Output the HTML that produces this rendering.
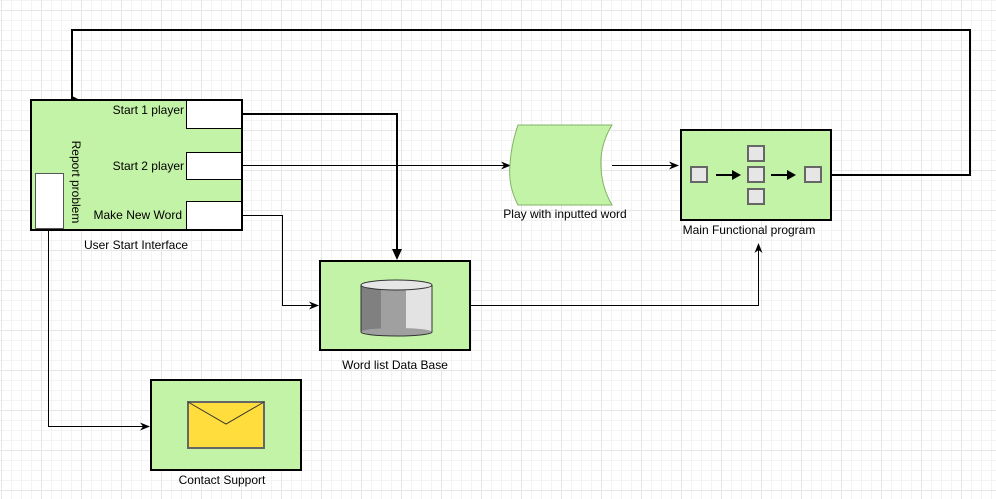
<!DOCTYPE html>
<html><head><style>body{margin:0;background:#fff}svg{display:block}text{font-family:"Liberation Sans",sans-serif;font-size:12px;fill:#000}</style></head>
<body>
<svg width="996" height="499" xmlns="http://www.w3.org/2000/svg">
<defs>
<pattern id="mi" x="1" y="0" width="10" height="10" patternUnits="userSpaceOnUse"><path d="M0 0.5H10M0.5 0V10" stroke="#f3f3f3" stroke-width="1" fill="none"/></pattern>
<pattern id="ma" x="1" y="10" width="40" height="40" patternUnits="userSpaceOnUse"><path d="M0 0.5H40M0.5 0V40" stroke="#e6e6e6" stroke-width="1" fill="none"/></pattern>
<marker id="ar" markerWidth="10" markerHeight="10" refX="9" refY="5" orient="auto" markerUnits="userSpaceOnUse"><path d="M0 1L10 5L0 9L3 5Z" fill="#000"/></marker>
</defs>
<rect width="996" height="499" fill="url(#mi)"/>
<rect width="996" height="499" fill="url(#ma)"/>
<path d="M831 175H970V30H72V100" fill="none" stroke="#000" stroke-width="2"/>
<path d="M72 96L80 100L72 100Z" fill="#000"/>
<rect x="31" y="100" width="211" height="130" fill="#c3f3a7" stroke="#000" stroke-width="2"/>
<rect x="186.5" y="100.5" width="55" height="28" fill="#fff" stroke="#000" stroke-width="1"/>
<rect x="186.5" y="152.5" width="55" height="27" fill="#fff" stroke="#000" stroke-width="1"/>
<rect x="186.5" y="201.5" width="55" height="28" fill="#fff" stroke="#000" stroke-width="1"/>
<rect x="35.5" y="173.5" width="28" height="55" fill="#fff" stroke="#555" stroke-width="1"/>
<text x="184" y="114" text-anchor="end">Start 1 player</text>
<text x="184" y="170" text-anchor="end">Start 2 player</text>
<text x="182" y="219" text-anchor="end">Make New Word</text>
<text transform="translate(72,182) rotate(90)" text-anchor="middle">Report problem</text>
<text x="136" y="249" text-anchor="middle">User Start Interface</text>
<path d="M242 114H397V255" fill="none" stroke="#000" stroke-width="2"/>
<path d="M392 249L397 260L402 249Z" fill="#000"/>
<path d="M242 165.5H510" stroke="#000" marker-end="url(#ar)"/>
<path d="M242 215.5H282.5V305.5H318" fill="none" stroke="#000" marker-end="url(#ar)"/>
<path d="M612 165.5H678" stroke="#000" marker-end="url(#ar)"/>
<path d="M470 305.5H758.5V244" fill="none" stroke="#000" marker-end="url(#ar)"/>
<path d="M48.5 230V426.5H149" fill="none" stroke="#000" marker-end="url(#ar)"/>
<path d="M518 125H612Q600 145 601 165Q601 186 612 205H518Q508 186 510 165Q511 145 518 125Z" fill="#c3f3a7" stroke="#82b366"/>
<text x="565" y="218" text-anchor="middle">Play with inputted word</text>
<rect x="681" y="130" width="150" height="90" fill="#c3f3a7" stroke="#000" stroke-width="2"/>
<g fill="#e6e6e6" stroke="#666" stroke-width="2">
<rect x="691" y="167" width="16" height="15"/><rect x="748" y="146" width="16" height="15"/><rect x="748" y="167" width="16" height="15"/><rect x="748" y="189" width="16" height="15"/><rect x="805" y="167" width="16" height="15"/>
</g>
<path d="M716 175H734" stroke="#000" stroke-width="2"/><path d="M732 170L741 175L732 180Z"/>
<path d="M771 175H789" stroke="#000" stroke-width="2"/><path d="M787 170L796 175L787 180Z"/>
<text x="749" y="234" text-anchor="middle">Main Functional program</text>
<rect x="320" y="261" width="150" height="89" fill="#c3f3a7" stroke="#000" stroke-width="2"/>
<rect x="361" y="285" width="20" height="47" fill="#808080"/>
<rect x="381" y="285" width="25" height="47" fill="#a0a0a0"/>
<rect x="406" y="285" width="26" height="47" fill="#e3e3e3"/>
<ellipse cx="396.5" cy="332" rx="35.5" ry="4" fill="#a0a0a0"/>
<path d="M361 285V332A35.5 4 0 0 0 432 332V285" fill="none" stroke="#333"/>
<ellipse cx="396.5" cy="285" rx="35.5" ry="5" fill="#e6e6e6" stroke="#333"/>
<text x="395" y="369" text-anchor="middle">Word list Data Base</text>
<rect x="151" y="380" width="150" height="90" fill="#c3f3a7" stroke="#000" stroke-width="2"/>
<rect x="188" y="402" width="76" height="46" fill="#ffdd3d" stroke="#666" stroke-width="2"/>
<path d="M188 402L226 424L264 402" fill="none" stroke="#333" stroke-width="1"/>
<text x="222" y="484" text-anchor="middle">Contact Support</text>
</svg>
</body></html>
